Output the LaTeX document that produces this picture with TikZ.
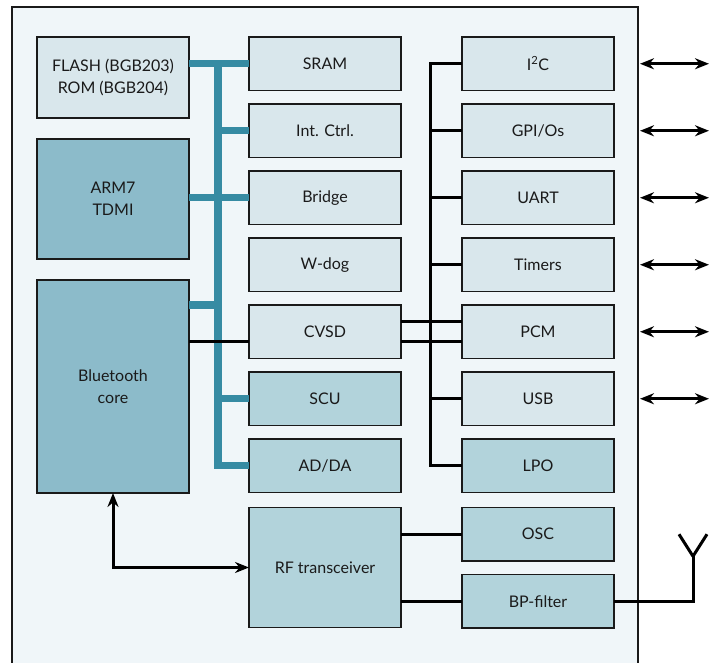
\documentclass[tikz,border=0pt]{standalone}
\usepackage{fontspec}
\setmainfont{Lato}
\usepackage{tikz}
\usetikzlibrary{arrows.meta,positioning}
\definecolor{chipbg}{HTML}{F0F6F9}
\definecolor{lightfill}{HTML}{D9E7EC}
\definecolor{midfill}{HTML}{B2D3DB}
\definecolor{darkfill}{HTML}{8CBBCA}
\definecolor{busteal}{HTML}{368BA3}
\definecolor{edge}{HTML}{1A1A1A}

\begin{document}
\begin{tikzpicture}[
    x=1pt, y=-1pt,
    node distance=13.5pt,
    block/.style={rectangle, draw=edge, line width=1.8pt, minimum width=152pt,
        minimum height=53.5pt, inner sep=0pt, outer sep=0pt, align=center,
        font=\fontsize{16}{22}\selectfont, text=edge, fill=lightfill},
    midblk/.style={block, fill=midfill},
    darkblk/.style={block, fill=darkfill},
    bus/.style={line width=7.5pt, draw=busteal},
    wire/.style={line width=3pt, draw=black},
    io/.style={{Stealth[length=14pt,width=11pt]}-{Stealth[length=14pt,width=11pt]},
        line width=3pt, draw=black}
]
\useasboundingbox (0,0) rectangle (716,663);

% chip outline
\path[draw=edge, line width=2pt, fill=chipbg] (12,7) rectangle (637.5,690);

% left column
\node[block, anchor=north west, minimum height=81pt] (flash) at (37,37)
    {FLASH (BGB203)\\ROM (BGB204)};
\node[darkblk, anchor=north west, minimum height=120pt] (arm) at (37,139) {ARM7\\TDMI};
\node[darkblk, anchor=north west, minimum height=213pt] (bt) at (37,280) {Bluetooth\\core};

% middle column
\node[block, anchor=north west] (sram) at (249,37) {SRAM};
\node[block, below=of sram] (intc) {Int. Ctrl.};
\node[block, below=of intc] (bridge) {Bridge};
\node[block, below=of bridge] (wdog) {W-dog};
\node[block, below=of wdog] (cvsd) {CVSD};
\node[midblk, below=of cvsd] (scu) {SCU};
\node[midblk, below=of scu] (adda) {AD/DA};
\node[midblk, below=15pt of adda, minimum height=120pt] (rf) {RF transceiver};

% right column
\node[block, anchor=north west] (i2c) at (462,37) {I\textsuperscript{2}C};
\node[block, below=of i2c] (gpio) {GPI/Os};
\node[block, below=of gpio] (uart) {UART};
\node[block, below=of uart] (timers) {Timers};
\node[block, below=of timers] (pcm) {PCM};
\node[block, below=of pcm] (usb) {USB};
\node[midblk, below=of usb] (lpo) {LPO};
\node[midblk, below=15pt of lpo] (osc) {OSC};
\node[midblk, below=of osc] (bp) {BP-filter};

% system bus
\path (sram.west) ++(-31,0) coordinate (bustop);
\coordinate (btbus) at ([yshift=-25pt]bt.north east);
\draw[bus] (flash.east |- sram.west) -- (sram.west);
\draw[bus, line join=miter] (bustop) |- (adda.west);
\draw[bus] (bustop |- intc.west) -- (intc.west);
\draw[bus] (arm.east |- bridge.west) -- (bridge.west);
\draw[bus] (btbus) -- (btbus -| bustop);
\draw[bus] (bustop |- scu.west) -- (scu.west);

% peripheral bus
\path (i2c.west) ++(-32,0) coordinate (ctltop);
\draw[wire, line join=miter] (i2c.west) -- (ctltop) |- (lpo.west);
\foreach \n in {gpio, uart, timers, usb}
    \draw[wire] (ctltop |- \n.west) -- (\n.west);

% audio path
\coordinate (cvlow) at ([yshift=-10pt]cvsd.west);
\draw[wire] (bt.east |- cvlow) -- (cvlow);
\draw[wire] ([yshift=10pt]cvsd.east) -- ([yshift=10pt]pcm.west);
\draw[wire] ([yshift=-10pt]cvsd.east) -- ([yshift=-10pt]pcm.west);

% radio
\draw[io] (bt.south) |- (rf.west);
\draw[wire] (rf.east |- osc.west) -- (osc.west);
\draw[wire] (rf.east |- bp.west) -- (bp.west);
\coordinate (ant) at ([xshift=79pt]bp.east);
\draw[wire, line join=miter] (bp.east) -- (ant) -- ++(0,-45) coordinate (feed);
\draw[wire] (feed) -- ++(-14,-22) (feed) -- ++(14,-22);

% external pins
\foreach \n in {i2c, gpio, uart, timers, pcm, usb}
    \draw[io] ([xshift=26pt]\n.east) -- ++(69,0);

\end{tikzpicture}
\end{document}
